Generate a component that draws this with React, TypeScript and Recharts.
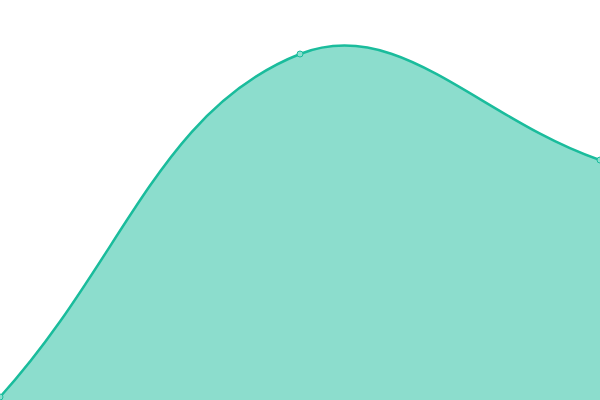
import React from "react";
import { AreaChart, Area, XAxis, YAxis } from "recharts";

// the visible window shows x = 0..2; the outer two points sit just off the edges and only shape the curve
const xs = [-1, 0, 1, 2, 3];
const values = [-78.5, 0.75, 86.5, 60, 35];

const data = xs.map((x, i) => ({ x, value: values[i] }));

// spline like Chart.js (tension 0.4): control points scaled by distance to the neighbours
function splineCurve(context: any) {
  const tension = 0.4;
  let pts: number[][] = [];
  let inArea = false;
  let lineIdx = 0;
  return {
    areaStart() {
      inArea = true;
      lineIdx = 0;
    },
    areaEnd() {
      inArea = false;
    },
    lineStart() {
      pts = [];
    },
    point(x: number, y: number) {
      pts.push([+x, +y]);
    },
    lineEnd() {
      const n = pts.length;
      if (n) {
        if (inArea && lineIdx === 1) context.lineTo(pts[0][0], pts[0][1]);
        else context.moveTo(pts[0][0], pts[0][1]);
        const cps = pts.map((cur, i) => {
          const prev = pts[i - 1] || cur;
          const next = pts[i + 1] || cur;
          const d01 = Math.hypot(cur[0] - prev[0], cur[1] - prev[1]);
          const d12 = Math.hypot(next[0] - cur[0], next[1] - cur[1]);
          let s01 = d01 / (d01 + d12);
          let s12 = d12 / (d01 + d12);
          if (isNaN(s01)) s01 = 0;
          if (isNaN(s12)) s12 = 0;
          const fa = tension * s01;
          const fb = tension * s12;
          return {
            px: cur[0] - fa * (next[0] - prev[0]),
            py: cur[1] - fa * (next[1] - prev[1]),
            nx: cur[0] + fb * (next[0] - prev[0]),
            ny: cur[1] + fb * (next[1] - prev[1]),
          };
        });
        for (let i = 1; i < n; i++) {
          context.bezierCurveTo(cps[i - 1].nx, cps[i - 1].ny, cps[i].px, cps[i].py, pts[i][0], pts[i][1]);
        }
      }
      if (inArea && lineIdx === 1) context.closePath();
      lineIdx++;
    },
  };
}

export default function App() {
  return (
    <div style={{ position: "absolute", left: 0, top: 0 }}>
      <AreaChart width={600} height={400} data={data} margin={{ top: 0, right: 0, bottom: 0, left: 0 }}>
        <XAxis dataKey="x" type="number" domain={[0, 2]} allowDataOverflow hide />
        <YAxis domain={[0, 100]} allowDataOverflow hide />
        <Area
          type={splineCurve as any}
          dataKey="value"
          baseValue={0}
          stroke="#1abc9c"
          strokeWidth={2.5}
          fill="#1abc9c"
          fillOpacity={0.5}
          dot={{ r: 3, fill: "#8ae0cf", stroke: "#1abc9c", strokeWidth: 1, fillOpacity: 1 }}
          activeDot={false}
          isAnimationActive={false}
        />
      </AreaChart>
    </div>
  );
}
